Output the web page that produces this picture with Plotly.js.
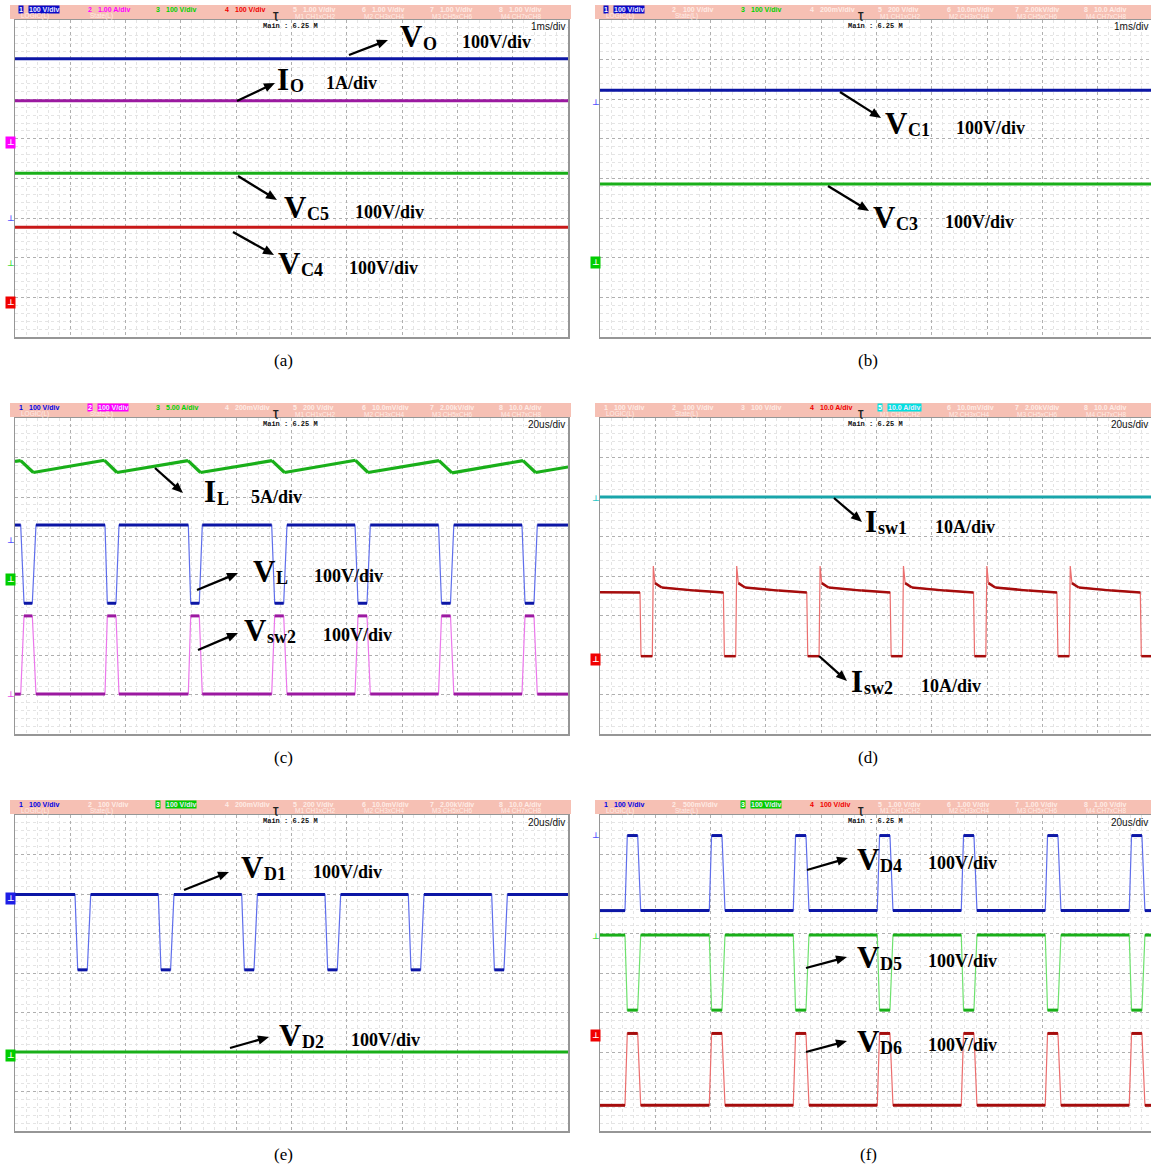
<!DOCTYPE html>
<html><head><meta charset="utf-8">
<script src="https://cdn.plot.ly/plotly-3.0.1.min.js"></script>
<style>html,body{margin:0;padding:0;background:#fff}</style>
</head><body><div id="chart" style="width:1151px;height:1169px"></div>
<script>
// ---------------- DATA (y in divisions from screen centre) ----------------
// (a) 1 ms/div
const aTime = [0, 10];
const aVo  = [3.02, 3.02];
const aIo  = [1.96, 1.96];
const aVc5 = [0.13, 0.13];
const aVc4 = [-1.23, -1.23];
// (b) 1 ms/div
const bTime = [0, 9.964];
const bVc1 = [2.23, 2.23];
const bVc3 = [-0.14, -0.14];
// (c) 20 us/div
const cIlTime = [0, 2.06, 6.62, 32.37, 36.89, 62.57, 67.09, 92.95, 97.47, 123.15, 127.67, 153.35, 158.05, 183.73, 188.26, 200];
const cIl     = [2.90, 2.92, 2.62, 2.93, 2.62, 2.92, 2.62, 2.92, 2.62, 2.93, 2.62, 2.92, 2.61, 2.92, 2.62, 2.76];
const cPulseTime = [0, 2.06, 3.26, 6.26, 7.59, 32.55, 33.38, 36.53, 37.61, 62.68, 63.54, 66.65, 67.74, 92.84, 93.92, 97.18, 98.37,
  122.97, 124.05, 127.31, 128.50, 153.17, 154.25, 157.50, 158.70, 183.36, 184.45, 187.70, 188.90, 200];
const cVl   = [1.29, 1.29,-0.69,-0.69,1.29, 1.29,-0.69,-0.69,1.29, 1.29,-0.69,-0.69,1.29, 1.29,-0.69,-0.69,1.29,
  1.29,-0.69,-0.69,1.29, 1.29,-0.69,-0.69,1.29, 1.29,-0.69,-0.69,1.29, 1.29];
const cVsw2 = [-2.99, -2.99,-1.01,-1.01,-2.99, -2.99,-1.01,-1.01,-2.99, -2.99,-1.01,-1.01,-2.99, -2.99,-1.01,-1.01,-2.99,
  -2.99,-1.01,-1.01,-2.99, -2.99,-1.01,-1.01,-2.99, -2.99,-1.01,-1.01,-2.99, -2.99];
// (d) 20 us/div
const dTime = [0, 199.3];
const dIsw1 = [2.0, 2.0];
const dIsw2Time = [0,
  14.47, 14.83, 18.92, 19.28, 19.89, 22.32, 34.36,
  44.63, 44.99, 49.08, 49.44, 50.05, 52.48, 64.52,
  74.79, 75.15, 79.24, 79.60, 80.21, 82.64, 94.68,
  104.95, 105.31, 109.40, 109.76, 110.37, 112.80, 124.84,
  135.11, 135.47, 139.56, 139.92, 140.53, 142.96, 155.00,
  165.28, 165.64, 169.73, 170.09, 170.70, 173.13, 185.17,
  195.44, 195.80, 199.3];
const dIsw2 = [-0.41,
  -0.42, -2.03, -2.03, 0.25, -0.18, -0.29, -0.37,
  -0.42, -2.03, -2.03, 0.25, -0.18, -0.29, -0.37,
  -0.42, -2.03, -2.03, 0.25, -0.18, -0.29, -0.37,
  -0.42, -2.03, -2.03, 0.25, -0.18, -0.29, -0.37,
  -0.42, -2.03, -2.03, 0.25, -0.18, -0.29, -0.37,
  -0.42, -2.03, -2.03, 0.25, -0.18, -0.29, -0.37,
  -0.42, -2.03, -2.03];
// (e) 20 us/div
const eTime = [0, 21.70, 22.68, 26.15, 27.38, 51.83, 52.80, 56.27, 57.50, 81.99, 82.96, 86.44, 87.67,
  112.11, 113.09, 116.56, 117.79, 142.24, 143.22, 146.69, 147.92, 172.40, 173.38, 176.85, 178.08, 200];
const eVd1 = [1.99, 1.99,0.08,0.08,1.99, 1.99,0.08,0.08,1.99, 1.99,0.08,0.08,1.99,
  1.99,0.08,0.08,1.99, 1.99,0.08,0.08,1.99, 1.99,0.08,0.08,1.99, 1.99];
const eFlatTime = [0, 200];
const eVd2 = [-2.0, -2.0];
// (f) 20 us/div
const fTime = [0, 9.04, 9.87, 13.63, 14.72, 39.53, 40.36, 44.12, 45.21, 69.91, 70.74, 74.50, 75.59,
  100.29, 101.12, 104.88, 105.97, 130.67, 131.50, 135.26, 136.35, 161.05, 161.88, 165.64, 166.73,
  191.43, 192.26, 196.02, 197.10, 199.3];
const fVd4 = [1.58, 1.58,3.48,3.48,1.58, 1.58,3.48,3.48,1.58, 1.58,3.48,3.48,1.58, 1.58,3.48,3.48,1.58,
  1.58,3.48,3.48,1.58, 1.58,3.48,3.48,1.58, 1.58,3.48,3.48,1.58, 1.58];
const fVd5 = [0.96, 0.96,-0.94,-0.94,0.96, 0.96,-0.94,-0.94,0.96, 0.96,-0.94,-0.94,0.96, 0.96,-0.94,-0.94,0.96,
  0.96,-0.94,-0.94,0.96, 0.96,-0.94,-0.94,0.96, 0.96,-0.94,-0.94,0.96, 0.96];
const fVd6 = [-3.35, -3.35,-1.53,-1.53,-3.35, -3.35,-1.53,-1.53,-3.35, -3.35,-1.53,-1.53,-3.35, -3.35,-1.53,-1.53,-3.35,
  -3.35,-1.53,-1.53,-3.35, -3.35,-1.53,-1.53,-3.35, -3.35,-1.53,-1.53,-3.35, -3.35];
// header texts
const hdrA = ['100 V/div','1.00 A/div','100 V/div','100 V/div','1.00 V/div','1.00 V/div','1.00 V/div','1.00 V/div'];
const hdrB = ['100 V/div','100 V/div','100 V/div','200mV/div','200 V/div','10.0mV/div','2.00kV/div','10.0 A/div'];
const hdrC = ['100 V/div','100 V/div','5.00 A/div','200mV/div','200 V/div','10.0mV/div','2.00kV/div','10.0 A/div'];
const hdrD = ['100 V/div','100 V/div','100 V/div','10.0 A/div','10.0 A/div','10.0mV/div','2.00kV/div','10.0 A/div'];
const hdrE = ['100 V/div','100 V/div','100 V/div','200mV/div','200 V/div','10.0mV/div','2.00kV/div','10.0 A/div'];
const hdrF = ['100 V/div','500mV/div','100 V/div','100 V/div','1.00 V/div','1.00 V/div','1.00 V/div','1.00 V/div'];
const hdrRow2 = ['LOGIC(L)','State(L)','','','M1 CH1xCH2','M2 CH3xCH4','M3 CH5xCH6','M4 CH7xCH8'];
const panelLetters = ['(a)','(b)','(c)','(d)','(e)','(f)'];

// ---------------- RENDERING ----------------
const W = 1151, H = 1169;
const PX = x => x / W, PY = y => 1 - y / H;

const traces = [];
function addTrace(xs, ys, n, dark, light, w) {
  const xa = 'x' + (n > 1 ? n : ''), ya = 'y' + (n > 1 ? n : '');
  traces.push({x: xs, y: ys, xaxis: xa, yaxis: ya, type: 'scatter', mode: 'lines',
    line: {color: light, width: 1.2}, hoverinfo: 'skip', showlegend: false});
  const px = [], py = [];
  for (let i = 0; i < xs.length - 1; i++) {
    if (Math.abs(ys[i + 1] - ys[i]) < 0.35) { px.push(xs[i], xs[i + 1], null); py.push(ys[i], ys[i + 1], null); }
  }
  traces.push({x: px, y: py, xaxis: xa, yaxis: ya, type: 'scatter', mode: 'lines',
    line: {color: dark, width: w}, hoverinfo: 'skip', showlegend: false});
}
const BLUE = 'rgb(12,22,165)', BLUE_L = 'rgb(95,110,235)';
const GREEN = 'rgb(25,175,25)', GREEN_L = 'rgb(110,225,110)';
const RED = 'rgb(200,25,25)', RED_L = 'rgb(240,120,120)';
const DRED = 'rgb(165,12,12)', DRED_L = 'rgb(235,110,110)';
const MAG = 'rgb(155,25,160)', MAG_L = 'rgb(235,120,235)';
const CYAN = 'rgb(25,165,170)', CYAN_L = 'rgb(110,220,220)';

addTrace(aTime, aVo, 1, BLUE, BLUE_L, 3);
addTrace(aTime, aIo, 1, MAG, MAG_L, 3);
addTrace(aTime, aVc5, 1, GREEN, GREEN_L, 3);
addTrace(aTime, aVc4, 1, RED, RED_L, 3);
addTrace(bTime, bVc1, 2, BLUE, BLUE_L, 3);
addTrace(bTime, bVc3, 2, GREEN, GREEN_L, 3);
addTrace(cIlTime, cIl, 3, GREEN, GREEN_L, 3.2);
addTrace(cPulseTime, cVl, 3, BLUE, BLUE_L, 3);
addTrace(cPulseTime, cVsw2, 3, MAG, MAG_L, 3);
addTrace(dTime, dIsw1, 4, CYAN, CYAN_L, 3);
addTrace(dIsw2Time, dIsw2, 4, DRED, DRED_L, 2.5);
addTrace(eTime, eVd1, 5, BLUE, BLUE_L, 3);
addTrace(eFlatTime, eVd2, 5, GREEN, GREEN_L, 3);
addTrace(fTime, fVd4, 6, BLUE, BLUE_L, 3);
addTrace(fTime, fVd5, 6, GREEN, GREEN_L, 3);
addTrace(fTime, fVd6, 6, DRED, DRED_L, 3);

// panel geometry in pixels
const panels = [
  {l: 15, r: 568, t: 20, b: 337, range: [0, 10], dt: 1, tb: '1ms/div', hdr: hdrA},
  {l: 600, r: 1151, t: 20, b: 337, range: [0, 9.964], dt: 1, tb: '1ms/div', hdr: hdrB},
  {l: 15, r: 568, t: 418, b: 734, range: [0, 200], dt: 20, tb: '20us/div', hdr: hdrC},
  {l: 600, r: 1151, t: 418, b: 734, range: [0, 199.3], dt: 20, tb: '20us/div', hdr: hdrD},
  {l: 15, r: 568, t: 815, b: 1131, range: [0, 200], dt: 20, tb: '20us/div', hdr: hdrE},
  {l: 600, r: 1151, t: 815, b: 1131, range: [0, 199.3], dt: 20, tb: '20us/div', hdr: hdrF}
];
const hdrStyles = [
  {0: ['hl', 'rgb(10,10,200)'], 1: ['fg', 'rgb(255,0,255)'], 2: ['fg', 'rgb(0,210,0)'], 3: ['fg', 'rgb(240,0,0)']},
  {0: ['hl', 'rgb(10,10,200)'], 2: ['fg', 'rgb(0,210,0)']},
  {0: ['fg', 'rgb(0,0,230)'], 1: ['hl', 'rgb(255,0,255)'], 2: ['fg', 'rgb(0,210,0)']},
  {3: ['fg', 'rgb(240,0,0)'], 4: ['hl', 'rgb(0,225,225)']},
  {0: ['fg', 'rgb(0,0,230)'], 2: ['hl', 'rgb(0,205,0)']},
  {0: ['fg', 'rgb(0,0,230)'], 2: ['hl', 'rgb(0,205,0)'], 3: ['fg', 'rgb(240,0,0)']}
];

const layout = {width: W, height: H, margin: {l: 0, r: 0, t: 0, b: 0}, paper_bgcolor: '#fff', plot_bgcolor: '#fff',
  showlegend: false, hovermode: false, shapes: [], annotations: []};

function txt(x, y, text, font, extra) {
  layout.annotations.push(Object.assign({xref: 'paper', yref: 'paper', x: PX(x), y: PY(y), text: text,
    showarrow: false, xanchor: 'left', yanchor: 'middle', borderpad: 0, font: font}, extra || {}));
}

const FADE = 'rgb(255,236,230)';
panels.forEach((p, i) => {
  const n = i + 1, sfx = n > 1 ? n : '';
  layout['xaxis' + sfx] = {domain: [PX(p.l), Math.min(1, PX(p.r))], range: p.range, dtick: p.dt, tick0: 0,
    showticklabels: false, ticks: '', zeroline: false, showgrid: true, gridcolor: 'rgb(175,175,175)', griddash: 'dot', gridwidth: 1,
    minor: {dtick: p.dt / 5, showgrid: true, gridcolor: 'rgb(228,228,228)', gridwidth: 1},
    showline: true, mirror: true, linecolor: 'rgb(150,150,150)', linewidth: 1.5, anchor: 'y' + sfx, fixedrange: true};
  layout['yaxis' + sfx] = {domain: [PY(p.b), PY(p.t)], range: [-4, 4], dtick: 1, tick0: 0,
    showticklabels: false, ticks: '', zeroline: false, showgrid: true, gridcolor: 'rgb(175,175,175)', griddash: 'dot', gridwidth: 1,
    minor: {dtick: 0.2, showgrid: true, gridcolor: 'rgb(228,228,228)', gridwidth: 1},
    showline: true, mirror: true, linecolor: 'rgb(150,150,150)', linewidth: 1.5, anchor: 'x' + sfx, fixedrange: true};
  // header bar
  layout.shapes.push({type: 'rect', xref: 'paper', yref: 'paper', x0: PX(p.l - 5), x1: PX(Math.min(W, p.r + 3)),
    y0: PY(p.t - 1), y1: PY(p.t - 15), fillcolor: 'rgb(246,192,180)', line: {width: 0}, layer: 'above'});
  const st = hdrStyles[i];
  p.hdr.forEach((v, k) => {
    const sx = p.l + 3 + 68.5 * k;
    if (sx > W - 10) return;
    const s = st[k];
    const hl = s && s[0] === 'hl';
    const bg = hl ? s[1] : 'rgba(0,0,0,0)';
    txt(sx, p.t - 10.5, '<b>' + (k + 1) + '</b>', {family: 'Liberation Sans', size: 7, color: s ? (hl ? '#fff' : s[1]) : FADE}, {bgcolor: bg});
    txt(sx + 10, p.t - 10.5, '<b>' + v + '</b>', {family: 'Liberation Sans', size: 7, color: s ? (hl ? 'rgb(235,235,255)' : s[1]) : FADE}, {bgcolor: bg});
    if (hdrRow2[k]) txt(sx + 2, p.t - 4, hdrRow2[k], {family: 'Liberation Sans', size: 6.5, color: FADE});
  });
  txt(p.l + 261, p.t - 3.5, '<b>Ʈ</b>', {family: 'DejaVu Sans', size: 8, color: '#222'}, {xanchor: 'center'});
  txt(p.l + 275, p.t + 6, '<b>Main : 6.25 M</b>', {family: 'Liberation Mono', size: 7, color: '#111'}, {xanchor: 'center'});
  txt(Math.min(W - 1, p.r - 2), p.t + 7, p.tb, {family: 'Liberation Sans', size: 10, color: '#111'}, {xanchor: 'right'});
  txt(p.l + 268, p.b + 23, panelLetters[i], {family: 'Liberation Serif', size: 17, color: '#000'}, {xanchor: 'center'});
});

// ground markers: [x, y, color, filled]
const gm = [
  [10, 142.5, 'rgb(255,0,255)', 1], [10, 218, 'rgb(80,80,255)', 0], [10, 263, 'rgb(60,220,60)', 0], [10, 302.5, 'rgb(240,0,0)', 1],
  [595, 102, 'rgb(80,80,255)', 0], [595, 262, 'rgb(0,205,0)', 1],
  [10, 540, 'rgb(80,80,255)', 0], [10, 580, 'rgb(0,205,0)', 1], [10, 694, 'rgb(230,80,230)', 0],
  [595, 498, 'rgb(40,200,200)', 0], [595, 659, 'rgb(240,0,0)', 1],
  [10, 898, 'rgb(30,30,230)', 1], [10, 1055, 'rgb(0,205,0)', 1],
  [595, 835, 'rgb(80,80,255)', 0], [595, 936, 'rgb(60,220,60)', 0], [595, 1035, 'rgb(240,0,0)', 1]
];
gm.forEach(g => txt(g[0], g[1], '<b>⊥</b>', {family: 'DejaVu Sans', size: 8, color: g[3] ? '#fff' : g[2]},
  {xanchor: 'center', bgcolor: g[3] ? g[2] : 'rgba(0,0,0,0)', borderpad: 1}));

// labels
const SERIF = 'Liberation Serif';
function lab(main, sub, x, y) {
  txt(x, y + 2, '<b>' + main + '</b>', {family: SERIF, size: 31, color: '#000'});
  const w = main === 'V' ? 23 : 13;
  txt(x + w, y + 9, '<b>' + sub + '</b>', {family: SERIF, size: 18, color: '#000'});
}
function unit(t, x, y) { txt(x, y, '<b>' + t + '</b>', {family: SERIF, size: 18, color: '#000'}); }
function arrow(tx, ty, hx, hy) {
  const dx = hx - tx, dy = hy - ty, L = Math.hypot(dx, dy), ux = dx / L, uy = dy / L;
  const bx = hx - ux * 11, by = hy - uy * 11, nx = -uy * 4.6, ny = ux * 4.6;
  layout.shapes.push({type: 'line', xref: 'paper', yref: 'paper', x0: PX(tx), y0: PY(ty), x1: PX(bx + ux), y1: PY(by + uy),
    line: {color: '#000', width: 2.3}, layer: 'above'});
  layout.shapes.push({type: 'path', xref: 'paper', yref: 'paper', layer: 'above', fillcolor: '#000', line: {width: 0},
    path: 'M' + PX(hx) + ',' + PY(hy) + ' L' + PX(bx + nx) + ',' + PY(by + ny) + ' L' + PX(bx - nx) + ',' + PY(by - ny) + ' Z'});
}
// (a)
lab('V', 'O', 399, 35); unit('100V/div', 461, 42); arrow(349, 55, 388, 40);
lab('I', 'O', 276, 77); unit('1A/div', 325, 83); arrow(237, 101, 275, 83);
lab('V', 'C5', 283, 205); unit('100V/div', 354, 212); arrow(238, 176, 277, 200);
lab('V', 'C4', 277, 261); unit('100V/div', 348, 268); arrow(233, 232, 274, 255);
// (b)
lab('V', 'C1', 884, 121); unit('100V/div', 955, 128); arrow(840, 92, 881, 118);
lab('V', 'C3', 872, 215); unit('100V/div', 944, 222); arrow(828, 186, 869, 211);
// (c)
lab('I', 'L', 203, 490); unit('5A/div', 250, 497); arrow(155, 468, 183, 493);
lab('V', 'L', 252, 569); unit('100V/div', 313, 576); arrow(197, 590, 238, 573);
lab('V', 'sw2', 243, 628); unit('100V/div', 322, 635); arrow(198, 650, 238, 633);
// (d)
lab('I', 'sw1', 864, 519); unit('10A/div', 934, 527); arrow(834, 498, 862, 522);
lab('I', 'sw2', 850, 679); unit('10A/div', 920, 686); arrow(819, 656, 847, 681);
// (e)
lab('V', 'D1', 240, 865); unit('100V/div', 312, 872); arrow(184, 890, 229, 872);
lab('V', 'D2', 278, 1033); unit('100V/div', 350, 1040); arrow(230, 1048, 269, 1037);
// (f)
lab('V', 'D4', 856, 857); unit('100V/div', 927, 863); arrow(807, 870, 848, 858);
lab('V', 'D5', 856, 955); unit('100V/div', 927, 961); arrow(806, 968, 847, 957);
lab('V', 'D6', 856, 1039); unit('100V/div', 927, 1045); arrow(806, 1052, 847, 1041);

Plotly.newPlot('chart', traces, layout, {staticPlot: true, displayModeBar: false});
</script></body></html>
